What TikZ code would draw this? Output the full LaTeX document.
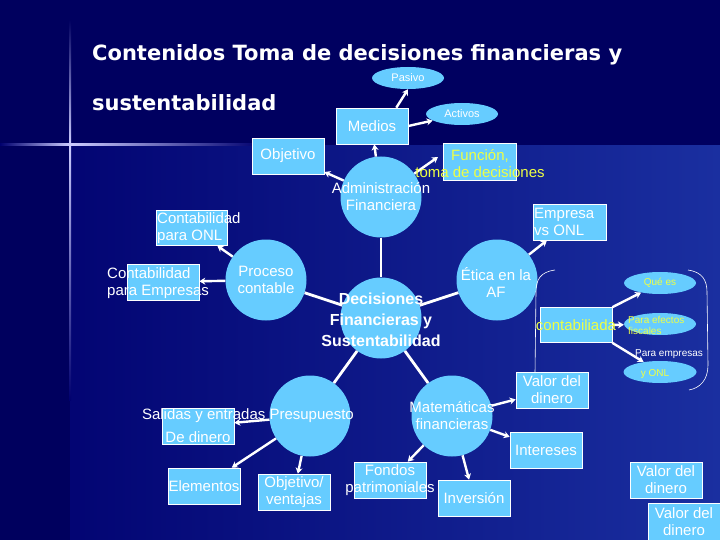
\documentclass[tikz,border=0pt]{standalone}
\usepackage{fontspec}
\setmainfont{Liberation Sans}
\newfontfamily\titlefont{DejaVu Sans}
\usetikzlibrary{arrows.meta,shapes.geometric}
\definecolor{bgA}{HTML}{00006E}
\definecolor{bgB}{HTML}{1A2FA0}
\definecolor{bgT}{HTML}{000060}
\definecolor{shp}{HTML}{66CCFF}
\definecolor{ylw}{HTML}{EEFF44}
\begin{document}
\begin{tikzpicture}[x=1pt,y=-1pt,
  txt/.style={text=white,font=\fontsize{15}{17}\selectfont,inner sep=0pt},
  box/.style={fill=shp,draw=white,line width=0.6pt,inner sep=0pt,rectangle},
  circ/.style={fill=shp,draw=none,circle,minimum size=81pt,inner sep=0pt},
  ell/.style={fill=shp,draw=none,ellipse,minimum width=72pt,minimum height=22pt,inner sep=0pt},
  arr/.style={draw=white,line width=2.4pt,-{Stealth[length=6pt,width=7pt]}},
  lin/.style={draw=white,line width=2.8pt}]
\useasboundingbox (0,0) rectangle (720,540);
\shade[left color=bgA,right color=bgB] (0,0) rectangle (720,540);
\fill[bgT] (0,0) rectangle (720,145);
\fill[bgA!85!black] (0,0) rectangle (70,540);
\shade[left color=bgA,right color=white!80!blue] (0,144) rectangle (70,146);
\shade[left color=white!80!blue,right color=bgA] (70,144) rectangle (260,146);
\shade[top color=bgT,bottom color=white!80!blue] (69,20) rectangle (71,145);
\shade[top color=white!80!blue,bottom color=bgA] (69,145) rectangle (71,400);
% title
\node[anchor=west,text=white,font=\titlefont\bfseries\fontsize{21}{24}\selectfont,inner sep=0pt] (t1) at (92,55) {Contenidos Toma de decisiones financieras y};
\node[anchor=west,text=white,font=\titlefont\bfseries\fontsize{21}{24}\selectfont,inner sep=0pt] (t2) at (92,103) {sustentabilidad};
% shapes
\node[ell] (pas) at (408,78) {};
\node[ell] (act) at (462,114) {};
\node[box,minimum width=72pt,minimum height=36pt] (med) at (372,126) {};
\node[box,minimum width=72pt,minimum height=36pt] (obj) at (288,156) {};
\node[circ] (adm) at (381,197) {};
\node[box,minimum width=73pt,minimum height=37pt] (fun) at (480,162) {};
\node[box,minimum width=73pt,minimum height=36pt] (emp) at (570,222) {};
\node[circ] (eti) at (497,280) {};
\node[circ] (dec) at (381,318) {};
\node[box,minimum width=71pt,minimum height=35pt] (cnl) at (192,228) {};
\node[box,minimum width=72pt,minimum height=36pt] (cem) at (163,282) {};
\node[circ] (pro) at (266,280) {};
\node[box,minimum width=72pt,minimum height=35pt] (cta) at (576,325) {};
\node[ell] (que) at (660,283) {};
\node[ell] (efe) at (660,324) {};
\node[ell,minimum width=73pt] (yon) at (660,372) {};
\node[circ] (pre) at (310,416) {};
\node[circ] (mat) at (452,416) {};
\node[box,minimum width=72pt,minimum height=36pt] (val) at (552,390) {};
\node[box,minimum width=72pt,minimum height=36pt] (int) at (546,450) {};
\node[box,minimum width=72pt,minimum height=36pt] (inv) at (474,498) {};
\node[box,minimum width=72pt,minimum height=36pt] (fon) at (390,480) {};
\node[box,minimum width=72pt,minimum height=36pt] (ven) at (294,492) {};
\node[box,minimum width=72pt,minimum height=36pt] (ele) at (204,486) {};
\node[box,minimum width=72pt,minimum height=36pt] (din) at (198,426) {};
\node[box,minimum width=72pt,minimum height=36pt] (va2) at (666,480) {};
\node[box,minimum width=72pt,minimum height=37pt] (va3) at (684,522) {};
% bracket
\draw[white,line width=0.6pt] (555,270) .. controls (540,272) and (536,280) .. (536,292) -- (535,373);
\draw[white,line width=0.6pt] (688,270) .. controls (702,272) and (707,280) .. (707,292) -- (708,365) .. controls (708,380) and (700,388) .. (689,390);
% connectors
\draw[arr] (adm) -- (med);
\draw[arr] (med.north east) ++(-12,0) -- (pas.south);
\draw[arr] (med.east) -- (act);
\draw[arr] (adm) -- (obj);
\draw[arr] (adm) -- (438,157);
\draw[lin] (adm) -- (dec);
\draw[lin] (dec) -- (pro);
\draw[arr] (pro) -- (cnl);
\draw[arr] (pro) -- (cem);
\draw[lin] (dec) -- (eti);
\draw[arr] (eti) -- (emp);
\draw[lin] (dec) -- (pre);
\draw[lin] (dec) -- (mat);
\draw[arr] (pre) -- (din);
\draw[arr] (pre) -- (ele);
\draw[arr] (pre) -- (ven);
\draw[arr] (mat) -- (val);
\draw[arr] (mat) -- (int);
\draw[arr] (mat) -- (inv);
\draw[arr] (mat) -- (fon);
\draw[arr] (cta.north east) -- (que);
\draw[arr] (cta.east) -- (efe);
\draw[arr] (cta.south east) -- (yon);
% texts
\node[txt,font=\fontsize{11}{13}\selectfont] at (pas) {Pasivo};
\node[txt,font=\fontsize{11}{13}\selectfont] at (act) {Activos};
\node[txt] at (med) {Medios};
\node[txt] at (obj) {Objetivo};
\node[txt,align=center] at (adm) {Administración\\Financiera};
\node[txt,text=ylw,align=center] at (480,164) {Función,\\toma de decisiones};
\node[txt,align=left,anchor=west] at (534,222) {Empresa\\vs ONL};
\node[txt,align=center] at (496,282) {Ética en la\\AF};
\node[txt,align=center,font=\bfseries\fontsize{16}{21}\selectfont] at (381,320) {Decisiones\\Financieras y\\Sustentabilidad};
\node[txt,align=left,anchor=west] at (157,228) {Contabilidad\\para ONL};
\node[txt,align=left,anchor=west] at (107,283) {Contabilidad\\para Empresas};
\node[txt,align=center] at (266,280) {Proceso\\contable};
\node[txt,text=ylw] at (576,325) {contabiliada};
\node[txt,text=ylw,font=\fontsize{10}{12}\selectfont] at (660,283) {Qué es};
\node[txt,text=ylw,align=left,anchor=west,font=\fontsize{10}{11}\selectfont] at (628,325) {Para efectos\\fiscales};
\node[txt,font=\fontsize{10}{12}\selectfont] at (669,354) {Para empresas};
\node[txt,text=ylw,font=\fontsize{10}{12}\selectfont] at (655,374) {y ONL};
\node[txt,anchor=east] at (354,416) {Salidas y entradas Presupuesto};
\node[txt] at (198,437) {De dinero};
\node[txt,align=center] at (452,416) {Matemáticas\\financieras};
\node[txt,align=center] at (552,390) {Valor del\\dinero};
\node[txt] at (546,450) {Intereses};
\node[txt] at (474,498) {Inversión};
\node[txt,align=center] at (390,480) {Fondos\\patrimoniales};
\node[txt,align=center] at (294,492) {Objetivo/\\ventajas};
\node[txt] at (204,486) {Elementos};
\node[txt,align=center] at (666,480) {Valor del\\dinero};
\node[txt,align=center] at (684,522) {Valor del\\dinero};
\end{tikzpicture}
\end{document}
